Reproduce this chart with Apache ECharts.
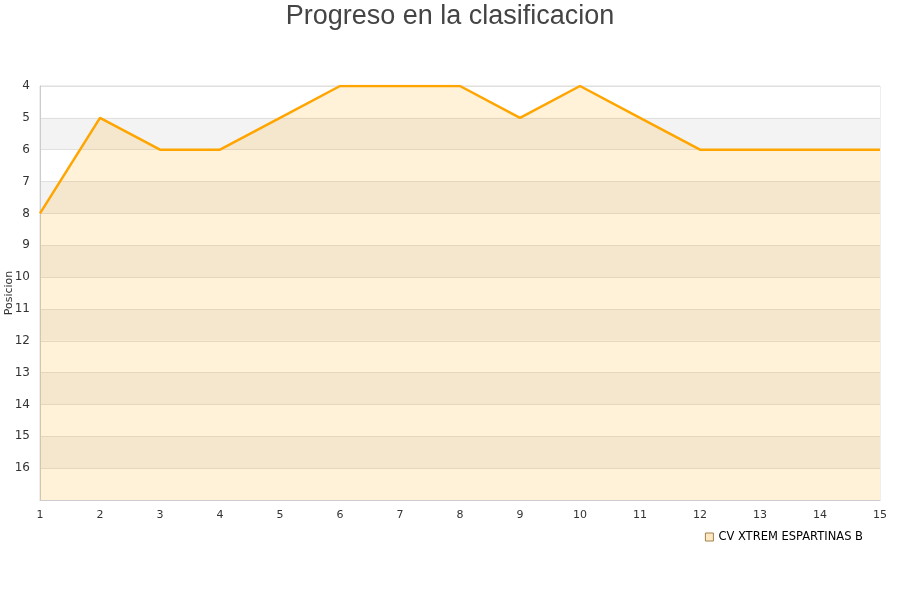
<!DOCTYPE html>
<html><head><meta charset="utf-8">
<script src="https://cdn.jsdelivr.net/npm/echarts@6/dist/echarts.min.js"></script>
<style>html,body{margin:0;padding:0;background:#fff}#c{width:900px;height:600px}</style>
</head><body><div id="c"></div>
<script>
const titleText = 'Progreso en la clasificacion';
const seriesName = 'CV XTREM ESPARTINAS B';
const jornadas = [1,2,3,4,5,6,7,8,9,10,11,12,13,14,15];
const posiciones = [8,5,6,6,5,4,4,4,5,4,5,6,6,6,6];
const yName = 'Posicion';

const chart = echarts.init(document.getElementById('c'));
chart.setOption({
  animation: false,
  title: { text: titleText, left: 'center', top: -2,
    textStyle: { fontFamily: 'Liberation Sans, Arial, sans-serif', fontSize: 27, fontWeight: 'normal', color: '#444' } },
  grid: { left: 40, right: 20, top: 86, bottom: 100, containLabel: false, outerBoundsMode: 'none',
    show: true, borderColor: '#ddd', borderWidth: 1, backgroundColor: 'transparent' },
  legend: { right: 32, bottom: 52, icon: 'rect', itemWidth: 8, itemHeight: 8, itemGap: 8,
    textStyle: { fontFamily: 'DejaVu Sans, sans-serif', fontSize: 11.5, color: '#000' },
    data: [{ name: seriesName, itemStyle: { color: '#ffe9c2', borderColor: '#a08050', borderWidth: 1 } }] },
  xAxis: { type: 'value', min: 1, max: 15, interval: 1,
    axisLine: { show: true, lineStyle: { color: '#ccc' } }, axisTick: { show: false },
    splitLine: { show: false },
    axisLabel: { color: '#333', fontFamily: 'DejaVu Sans, sans-serif', fontSize: 11, margin: 10 } },
  yAxis: { type: 'value', inverse: true, min: 4, max: 17, interval: 1,
    name: yName, nameLocation: 'middle', nameGap: 25, nameRotate: 90, nameMoveOverlap: false,
    nameTextStyle: { color: '#333', fontFamily: 'DejaVu Sans, sans-serif', fontSize: 11 },
    axisLine: { show: true, lineStyle: { color: '#ccc' } }, axisTick: { show: false },
    axisLabel: { color: '#333', fontFamily: 'DejaVu Sans, sans-serif', fontSize: 12, margin: 10,
      formatter: v => v === 17 ? '' : String(v) },
    splitLine: { show: true, lineStyle: { color: '#e0e0e0' } },
    splitArea: { show: true, areaStyle: { color: ['#ffffff', '#f3f3f3'] } } },
  series: [{
    name: seriesName, type: 'line',
    data: jornadas.map((j, i) => [j, posiciones[i]]),
    symbol: 'none',
    lineStyle: { color: '#ffa500', width: 2.5 },
    itemStyle: { color: '#ffa500' },
    areaStyle: { color: 'rgba(255,165,0,0.21)', origin: 'end' }
  }]
});
</script></body></html>
